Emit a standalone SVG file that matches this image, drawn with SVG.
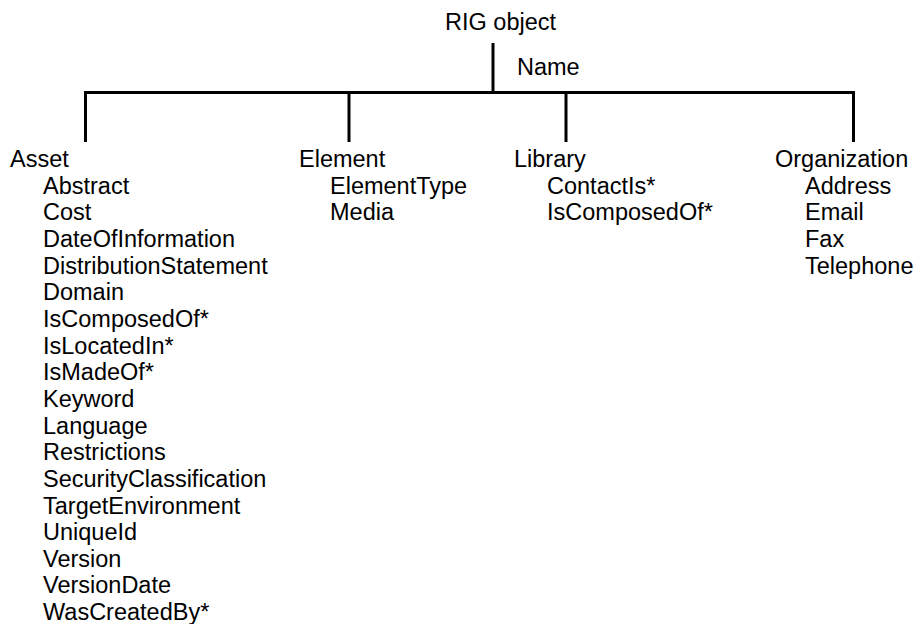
<svg xmlns="http://www.w3.org/2000/svg" width="923" height="624" viewBox="0 0 923 624">
<style>
text{font-family:"Liberation Sans",Arial,sans-serif;font-size:23.5px;fill:#000}
.ln{stroke:#000;stroke-width:3;fill:none}
</style>
<rect width="923" height="624" fill="#fff"/>
<g id="connectors">
<line class="ln" x1="493" y1="43" x2="493" y2="94"/>
<line class="ln" x1="84" y1="92.5" x2="855" y2="92.5"/>
<line class="ln" x1="85.5" y1="92.5" x2="85.5" y2="142"/>
<line class="ln" x1="349" y1="92.5" x2="349" y2="142"/>
<line class="ln" x1="566" y1="92.5" x2="566" y2="142"/>
<line class="ln" x1="853.5" y1="92.5" x2="853.5" y2="142"/>
</g>
<g id="root">
<text x="445" y="30">RIG object</text>
<text x="517" y="75">Name</text>
</g>
<g id="asset">
<text x="10" y="167">Asset</text>
<text x="43" y="193.7">Abstract</text>
<text x="43" y="220.3">Cost</text>
<text x="43" y="247">DateOfInformation</text>
<text x="43" y="273.6">DistributionStatement</text>
<text x="43" y="300.3">Domain</text>
<text x="43" y="326.9">IsComposedOf*</text>
<text x="43" y="353.6">IsLocatedIn*</text>
<text x="43" y="380.2">IsMadeOf*</text>
<text x="43" y="406.9">Keyword</text>
<text x="43" y="433.5">Language</text>
<text x="43" y="460.2">Restrictions</text>
<text x="43" y="486.8">SecurityClassification</text>
<text x="43" y="513.5">TargetEnvironment</text>
<text x="43" y="540.1">UniqueId</text>
<text x="43" y="566.8">Version</text>
<text x="43" y="593.4">VersionDate</text>
<text x="43" y="620">WasCreatedBy*</text>
</g>
<g id="element">
<text x="299" y="167">Element</text>
<text x="330" y="193.7">ElementType</text>
<text x="330" y="220.3">Media</text>
</g>
<g id="library">
<text x="514" y="167">Library</text>
<text x="547" y="193.7">ContactIs*</text>
<text x="547" y="220.3">IsComposedOf*</text>
</g>
<g id="organization">
<text x="775" y="167">Organization</text>
<text x="805" y="193.7">Address</text>
<text x="805" y="220.3">Email</text>
<text x="805" y="247">Fax</text>
<text x="805" y="273.6">Telephone</text>
</g>
</svg>
